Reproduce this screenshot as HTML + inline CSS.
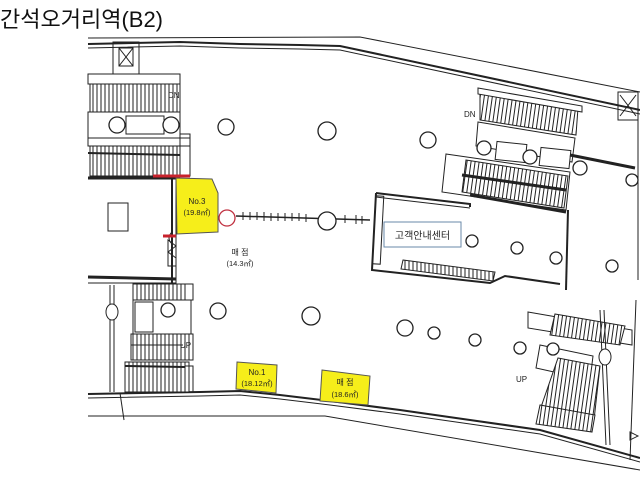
<!DOCTYPE html>
<html><head><meta charset="utf-8"><style>
html,body{margin:0;padding:0;background:#fff;width:640px;height:480px;overflow:hidden}
svg{display:block}
</style></head><body>
<svg width="640" height="480" viewBox="0 0 640 480" xmlns="http://www.w3.org/2000/svg" font-family="Liberation Sans, Noto Sans CJK KR, sans-serif">
<defs>
<pattern id="v" width="4" height="10" patternUnits="userSpaceOnUse"><rect width="4" height="10" fill="#fff"/><line x1="1" y1="0" x2="1" y2="10" stroke="#222" stroke-width="1"/></pattern>
<pattern id="vs" width="4" height="10" patternUnits="userSpaceOnUse" patternTransform="rotate(8)"><rect width="4" height="10" fill="#fff"/><line x1="1" y1="0" x2="1" y2="10" stroke="#222" stroke-width="1"/></pattern>
<pattern id="vr" width="4" height="10" patternUnits="userSpaceOnUse" patternTransform="rotate(-10)"><rect width="4" height="10" fill="#fff"/><line x1="1" y1="0" x2="1" y2="10" stroke="#222" stroke-width="1"/></pattern>
</defs>
<text x="0" y="27" font-size="22" fill="#111">간석오거리역(B2)</text>

<g fill="none" stroke="#222" stroke-width="1">
<!-- top walls -->
<polyline points="88,38 360,37 640,92"/>
<polyline points="88,44 180,42 240,44 300,45 340,46 640,110" stroke-width="2"/>
<polyline points="88,48 180,46 240,48 300,49 340,50 640,114"/>
<!-- bottom walls -->
<polyline points="88,394 200,392 240,391 280,395 330,401 400,410 470,420 540,430 640,458" stroke-width="2"/>
<polyline points="88,398 200,396 240,395 280,399 330,405 400,414 470,424 540,434 640,462"/>
<polyline points="88,416 325,416 640,470"/>

<!-- top-left elevator -->
<rect x="113" y="42" width="26" height="32"/>
<rect x="119" y="48" width="14" height="18"/>
<line x1="119" y1="48" x2="133" y2="66"/><line x1="133" y1="48" x2="119" y2="66"/>
</g>

<!-- left escalators top -->
<rect x="88" y="74" width="92" height="10" fill="#fff" stroke="#222"/>
<rect x="90" y="84" width="90" height="34" fill="url(#v)" stroke="#222"/>
<rect x="88" y="112" width="92" height="26" fill="#fff" stroke="#222"/>
<rect x="126" y="116" width="38" height="18" fill="#fff" stroke="#222"/>
<rect x="88" y="138" width="102" height="8" fill="#fff" stroke="#222"/>
<rect x="90" y="146" width="90" height="30" fill="url(#v)" stroke="#222"/>
<line x1="88" y1="153" x2="180" y2="155" stroke="#222" stroke-width="2"/>
<rect x="180" y="134" width="10" height="42" fill="none" stroke="#222"/>
<line x1="88" y1="178" x2="180" y2="178" stroke="#222" stroke-width="3"/>
<text x="168" y="98" font-size="8" fill="#222">DN</text>

<!-- left room -->
<g fill="none" stroke="#222">
<line x1="172" y1="178" x2="172" y2="285" stroke-width="2"/>
<line x1="176" y1="178" x2="176" y2="285"/>
<line x1="88" y1="277" x2="176" y2="279" stroke-width="3"/>
<line x1="88" y1="283" x2="176" y2="283"/>
<rect x="108" y="203" width="20" height="28"/>
<path d="M172,232 q-6,6 0,12"/>
<path d="M168,240 l8,6 l-8,6 l8,6 v8 h-8 z"/>
</g>
<line x1="153" y1="176" x2="190" y2="176" stroke="#c8222c" stroke-width="3"/>
<line x1="163" y1="236" x2="176" y2="236" stroke="#c8222c" stroke-width="3"/>

<!-- left escalators bottom -->
<rect x="133" y="284" width="52" height="16" fill="url(#v)" stroke="#222"/>
<rect x="185" y="284" width="8" height="16" fill="#fff" stroke="#222"/>
<rect x="133" y="300" width="58" height="34" fill="#fff" stroke="#222"/>
<rect x="135" y="302" width="18" height="30" fill="#fff" stroke="#222"/>
<rect x="131" y="334" width="62" height="26" fill="url(#v)" stroke="#222"/>
<line x1="131" y1="345" x2="183" y2="345" stroke="#222"/>
<rect x="125" y="362" width="64" height="30" fill="url(#v)" stroke="#222"/>
<line x1="125" y1="366" x2="185" y2="367" stroke="#222" stroke-width="2"/>
<rect x="185" y="366" width="8" height="26" fill="none" stroke="#222"/>
<text x="180" y="348" font-size="8" fill="#222">UP</text>
<g fill="none" stroke="#222"><line x1="114" y1="285" x2="114" y2="392"/><line x1="110" y1="285" x2="110" y2="392"/><ellipse cx="112" cy="312" rx="6" ry="8" fill="#fff"/><line x1="120" y1="393" x2="124" y2="420"/></g>

<!-- center right escalators -->
<polygon points="480,92 578,108 576,135 480,120" fill="url(#vs)" stroke="#222"/>
<polygon points="478,88 582,106 582,112 478,94" fill="#fff" stroke="#222"/>
<polygon points="478,122 575,138 572,162 476,146" fill="#fff" stroke="#222"/>
<rect x="496" y="143" width="30" height="18" fill="#fff" stroke="#222" transform="rotate(6 511 152)"/>
<rect x="540" y="149" width="30" height="18" fill="#fff" stroke="#222" transform="rotate(6 555 158)"/>
<polygon points="446,154 570,172 566,210 442,192" fill="#fff" stroke="#222"/>
<polygon points="466,160 568,176 564,208 462,192" fill="url(#vs)" stroke="#222"/>
<line x1="462" y1="175" x2="566" y2="190" stroke="#222" stroke-width="3"/>
<line x1="470" y1="195" x2="566" y2="212" stroke="#222" stroke-width="3"/>
<text x="464" y="117" font-size="8" fill="#222">DN</text>
<polyline points="570,155 635,168" fill="none" stroke="#222" stroke-width="3"/>
<g fill="none" stroke="#222"><rect x="618" y="92" width="20" height="28"/><line x1="620" y1="95" x2="636" y2="116"/><line x1="636" y1="95" x2="620" y2="116"/><line x1="638" y1="120" x2="638" y2="280"/></g>

<!-- customer center room -->
<g fill="none" stroke="#222">
<polyline points="376,193 470,204 470,207" stroke-width="2"/>
<polyline points="376,197 470,208"/>
<polyline points="376,193 372,270 490,283 505,276 560,284" stroke-width="2"/>
<polyline points="568,210 566,290" stroke-width="2"/>
<rect x="374" y="196" width="8" height="68" transform="rotate(3 378 230)"/>
</g>
<polygon points="403,260 495,272 493,281 401,269" fill="url(#v)" stroke="#222"/>
<rect x="384" y="222" width="77" height="25" fill="#fff" stroke="#6a8aa8"/>
<text x="422.5" y="239" font-size="10" text-anchor="middle" fill="#222">고객안내센터</text>

<!-- right bottom escalators -->
<polygon points="528,312 632,330 632,345 528,328" fill="#fff" stroke="#222"/>
<polygon points="555,314 625,326 620,345 550,335" fill="url(#vs)" stroke="#222"/>
<polygon points="540,345 593,356 590,380 536,368" fill="#fff" stroke="#222"/>
<polygon points="558,358 600,366 594,420 540,410" fill="url(#vs)" stroke="#222"/>
<polygon points="540,405 595,415 592,432 536,424" fill="url(#vs)" stroke="#222"/>
<text x="516" y="382" font-size="8" fill="#222">UP</text>
<g fill="none" stroke="#222"><line x1="600" y1="310" x2="606" y2="445"/><line x1="604" y1="310" x2="610" y2="445"/><ellipse cx="605" cy="357" rx="6" ry="8" fill="#fff"/><line x1="636" y1="300" x2="630" y2="460"/><path d="M630,432 l8,4 l-8,4z"/></g>

<!-- chain -->
<line x1="236" y1="216" x2="370" y2="220" stroke="#222" stroke-width="1.5"/>
<g stroke="#222" stroke-width="1">
<line x1="243" y1="212" x2="243" y2="220"/><line x1="250" y1="212" x2="250" y2="220"/><line x1="257" y1="212" x2="257" y2="220"/><line x1="264" y1="212" x2="264" y2="221"/><line x1="271" y1="213" x2="271" y2="221"/><line x1="278" y1="213" x2="278" y2="221"/><line x1="285" y1="213" x2="285" y2="221"/><line x1="292" y1="213" x2="292" y2="221"/><line x1="299" y1="213" x2="299" y2="221"/><line x1="306" y1="214" x2="306" y2="222"/><line x1="345" y1="215" x2="345" y2="223"/><line x1="356" y1="215" x2="356" y2="224"/><line x1="362" y1="216" x2="362" y2="224"/>
</g>

<!-- columns -->
<g fill="#fff" stroke="#222" stroke-width="1.3">
<circle cx="117" cy="125" r="8"/><circle cx="171" cy="125" r="8"/>
<circle cx="226" cy="127" r="8"/><circle cx="327" cy="131" r="9"/>
<circle cx="428" cy="140" r="8"/><circle cx="484" cy="148" r="7"/><circle cx="530" cy="157" r="7"/><circle cx="580" cy="168" r="7"/>
<circle cx="632" cy="180" r="6"/>
<circle cx="227" cy="218" r="8" stroke="#c03040"/><circle cx="327" cy="221" r="9"/>
<circle cx="328" cy="225" r="0"/>
<circle cx="472" cy="241" r="6"/><circle cx="517" cy="248" r="6"/><circle cx="556" cy="258" r="6"/><circle cx="612" cy="266" r="6"/>
<circle cx="168" cy="310" r="7"/><circle cx="218" cy="311" r="8"/><circle cx="311" cy="316" r="9"/>
<circle cx="405" cy="328" r="8"/><circle cx="434" cy="333" r="6"/><circle cx="475" cy="340" r="6"/><circle cx="520" cy="348" r="6"/><circle cx="553" cy="349" r="6"/>
</g>

<!-- yellow shops -->
<polygon points="176,178 212,179 218,193 218,232 177,234" fill="#f6ee1a" stroke="#555"/>
<text x="197" y="204" font-size="8" text-anchor="middle" fill="#222">No.3</text>
<text x="197" y="215" font-size="7.5" text-anchor="middle" fill="#222">(19.8㎡)</text>
<polygon points="237,362 277,365 276,393 236,389" fill="#f6ee1a" stroke="#555"/>
<text x="257" y="375" font-size="8" text-anchor="middle" fill="#222">No.1</text>
<text x="257" y="386" font-size="7.5" text-anchor="middle" fill="#222">(18.12㎡)</text>
<polygon points="322,370 370,376 368,405 320,401" fill="#f6ee1a" stroke="#555"/>
<text x="345" y="385" font-size="8" text-anchor="middle" fill="#222">매 점</text>
<text x="345" y="397" font-size="7.5" text-anchor="middle" fill="#222">(18.6㎡)</text>

<text x="240" y="255" font-size="8" text-anchor="middle" fill="#222">매 점</text>
<text x="240" y="266" font-size="7.5" text-anchor="middle" fill="#222">(14.3㎡)</text>
</svg>
</body></html>
